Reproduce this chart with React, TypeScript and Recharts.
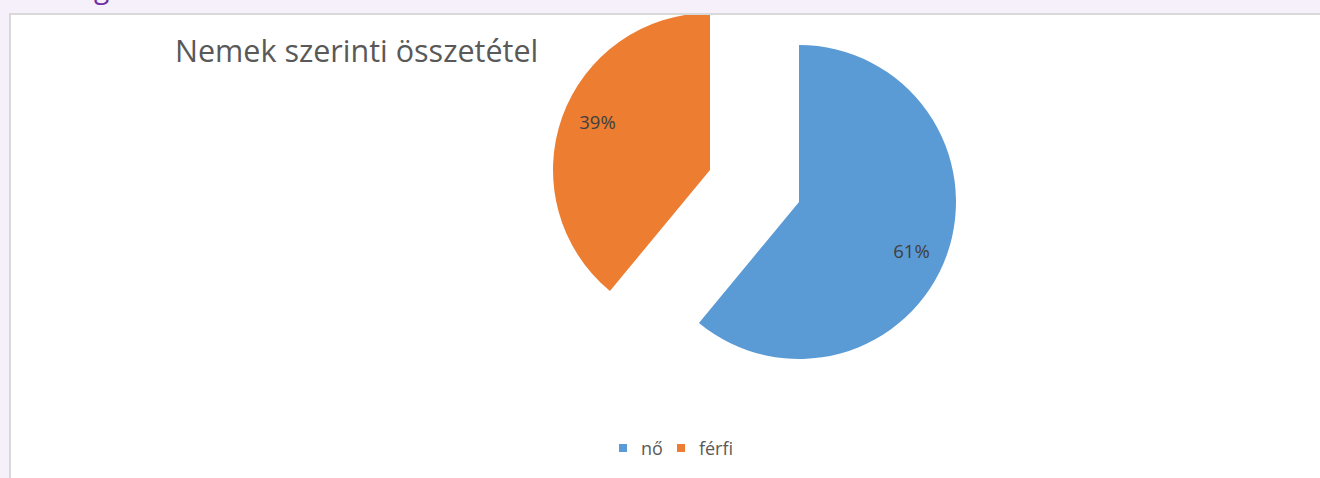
import React from 'react';
import { PieChart, Pie, Cell, Legend } from 'recharts';

const categories = ['nő', 'férfi'];
const shares = [61, 39];
const colors = ['#5B9BD5', '#ED7D31'];

const chartTitle = 'Nemek szerinti összetétel';

const data = categories.map((name, i) => ({ name, value: shares[i] }));

const RAD = Math.PI / 180;

// label sits at ~78% of the radius, a little clockwise of the slice bisector
function makeLabel(showIndex: number) {
  return (props: any) => {
    const { cx, cy, midAngle, outerRadius, index, value } = props;
    if (index !== showIndex) return null;
    const r = outerRadius * 0.78;
    const a = midAngle - 3.5;
    const x = cx + r * Math.cos(-a * RAD);
    const y = cy + r * Math.sin(-a * RAD);
    return (
      <text
        x={x}
        y={y}
        fill="#404040"
        fontSize={18.5}
        fontFamily="'Open Sans', sans-serif"
        textAnchor="middle"
        dominantBaseline="central"
      >
        {value}%
      </text>
    );
  };
}

function LegendBox() {
  return (
    <div
      style={{
        display: 'flex',
        justifyContent: 'center',
        alignItems: 'center',
        gap: 14,
        fontFamily: "'Open Sans', sans-serif",
        fontSize: 18,
        color: '#595959',
      }}
    >
      {categories.map((c, i) => (
        <span key={c} style={{ display: 'flex', alignItems: 'center' }}>
          <span
            style={{
              width: 8,
              height: 8,
              background: colors[i],
              display: 'inline-block',
              marginRight: 14,
            }}
          />
          {c}
        </span>
      ))}
    </div>
  );
}

export default function App() {
  return (
    <div
      style={{
        position: 'absolute',
        left: 0,
        top: 0,
        width: 1320,
        height: 478,
        background: '#F6F0FB',
        overflow: 'hidden',
      }}
    >
      <div
        style={{
          position: 'absolute',
          left: 94,
          top: -27,
          color: '#7030A0',
          fontFamily: "'Open Sans', sans-serif",
          fontSize: 28,
          lineHeight: '28px',
        }}
      >
        g
      </div>
      <div
        style={{
          position: 'absolute',
          left: 9,
          top: 13,
          width: 1330,
          height: 480,
          background: '#ffffff',
          borderLeft: '2px solid #D9D9D9',
          borderTop: '2px solid #D9D9D9',
          overflow: 'hidden',
        }}
      >
        <div style={{ position: 'absolute', left: -11, top: -15 }}>
          <div
            style={{
              position: 'absolute',
              left: 175,
              top: 29,
              fontFamily: "'Open Sans', sans-serif",
              fontSize: 30.5,
              color: '#595959',
              whiteSpace: 'nowrap',
              zIndex: 2,
            }}
          >
            {chartTitle}
          </div>
          <PieChart width={1320} height={478} margin={{ top: 0, right: 0, bottom: 0, left: 0 }}>
            <Pie
              data={data}
              dataKey="value"
              nameKey="name"
              cx={799}
              cy={202}
              outerRadius={157}
              startAngle={90}
              endAngle={-270}
              stroke="none"
              labelLine={false}
              label={makeLabel(0)}
              isAnimationActive={false}
            >
              {data.map((d, i) => (
                <Cell key={d.name} fill={i === 0 ? colors[0] : 'transparent'} />
              ))}
            </Pie>
            <Pie
              data={data}
              dataKey="value"
              nameKey="name"
              cx={710}
              cy={170}
              outerRadius={157}
              startAngle={90}
              endAngle={-270}
              stroke="none"
              labelLine={false}
              label={makeLabel(1)}
              isAnimationActive={false}
            >
              {data.map((d, i) => (
                <Cell key={d.name} fill={i === 1 ? colors[1] : 'transparent'} />
              ))}
            </Pie>
            <Legend
              content={() => <LegendBox />}
              wrapperStyle={{ position: 'absolute', left: 0, top: 436, width: 1352 }}
            />
          </PieChart>
        </div>
      </div>
    </div>
  );
}
